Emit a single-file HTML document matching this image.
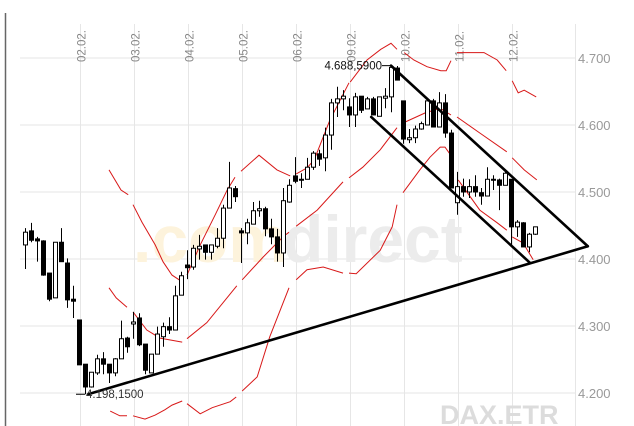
<!DOCTYPE html>
<html><head><meta charset="utf-8"><style>
html,body{margin:0;padding:0;background:#fff;}
svg{display:block;font-family:"Liberation Sans",sans-serif;}
</style></head><body>
<svg id="chart" width="634" height="426" viewBox="0 0 634 426" xmlns="http://www.w3.org/2000/svg">
<line x1="5.5" y1="13" x2="5.5" y2="426" stroke="#666" stroke-width="1.5"/>
<g id="grid"></g>
<g font-weight="bold" font-size="66">
<text x="133" y="262" fill="#fdf3dc">.com</text>
<text x="283" y="262" fill="#ececec">direct</text>
</g>
<text x="440" y="424" font-size="27" font-weight="bold" fill="#dcdcdc">DAX.ETR</text>
<g id="xlabels"></g>
<g id="ylabels"></g>
<g id="bands"></g>
<g id="candles"></g>
<g id="trend"></g>
<g id="annot"></g>
</svg>
<script>
const dayLabels=["02.02.","03.02.","04.02.","05.02.","06.02.","09.02.","10.02.","11.02.","12.02."];
const dayStartIdx=[9.17,18.17,27.17,36.17,45.17,54.17,63.17,72.17,81.17];
const yTicks=[4700,4600,4500,4400,4300,4200];
const yTickLabels=["4.700","4.600","4.500","4.400","4.300","4.200"];
const opens=[4421,4442,4430,4427,4379,4342,4425,4394,4340,4309,4243,4209,4230,4251,4243,4230,4251,4282,4303,4312,4273,4230,4258,4284,4299,4294,4346,4391,4388,4415,4421,4410,4419,4431,4476,4505,4442,4439,4452,4472,4475,4445,4433,4409,4485,4524,4519,4519,4537,4557,4551,4585,4633,4639,4627,4615,4643,4624,4639,4613,4640,4642,4685,4636,4578,4581,4594,4600,4636,4597,4633,4588,4484,4508,4500,4508,4499,4494,4519,4518,4510,4519,4448,4454,4418,4437];
const highs=[4446,4454,4433,4428,4379,4425,4446,4401,4360,4309,4243,4231,4257,4261,4243,4252,4308,4284,4321,4319,4273,4258,4299,4305,4313,4360,4381,4413,4421,4436,4421,4421,4446,4481,4545,4509,4446,4460,4485,4487,4478,4460,4445,4506,4519,4552,4528,4551,4561,4563,4596,4639,4657,4652,4640,4648,4643,4642,4642,4642,4655,4688.59,4688,4636,4594,4599,4605,4639,4639,4649,4646,4593,4530,4520,4519,4525,4506,4537,4525,4520,4533,4519,4458,4455,4439,4448];
const lows=[4385,4425,4396,4375,4337,4342,4396,4327,4312,4242,4198.15,4208,4227,4228,4215,4225,4251,4260,4281,4270,4228,4230,4258,4269,4288,4294,4346,4370,4384,4399,4399,4399,4416,4416,4476,4485,4394,4422,4452,4463,4434,4422,4396,4388,4484,4513,4506,4519,4533,4539,4531,4563,4612,4622,4597,4597,4618,4624,4615,4613,4625,4619,4667,4572,4573,4573,4593,4600,4597,4597,4581,4506,4466,4493,4491,4493,4481,4494,4503,4473,4510,4418,4433,4418,4410,4436];
const closes=[4440,4428,4427,4376,4340,4425,4396,4339,4337,4242,4209,4231,4251,4243,4230,4251,4281,4269,4306,4272,4234,4258,4288,4299,4294,4345,4375,4387,4416,4419,4410,4421,4431,4476,4506,4493,4439,4454,4472,4475,4445,4433,4409,4487,4510,4516,4518,4537,4558,4549,4585,4633,4639,4643,4615,4642,4622,4639,4615,4642,4643,4686,4667,4579,4581,4594,4602,4636,4597,4633,4588,4506,4508,4500,4508,4500,4494,4519,4518,4510,4528,4448,4455,4418,4437,4448];
const upperX=[14,16,17.2,null,18,19.5,21.7,23,24.5,26.2,null,27,29.2,31.7,33.7,35,null,36,39,42,44.2,null,45.2,47,48.2,50.8,54,null,54.2,57,59.3,61,62,null,63.2,64.8,67,69.3,70.2,71,null,72,74.3,76.5,78.7,80.2,null,81.2,82.2,83.2,85.2];
const upperP=[4533,4503,4496,null,4481,4455,4421,4396,4376,4366,null,4376,4421,4466,4503,4522,null,4531,4555,4533,4524,null,4527,4536,4548,4607,4663,null,4664,4697,4713,4722,4713,null,4708,4697,4687,4681,4681,4696,null,4708,4708,4708,4697,4681,null,4666,4648,4652,4642];
const midX=[14,15.2,17,null,18,20.3,22.5,26.2,null,27,30.3,35.3,null,36.2,39.7,43,44,null,45.2,48.7,53,null,54,56.3,59.2,62,null,63,66.7,69.2,71,null,72,75.8,80.3,null,81.2,83.2,85.3];
const midP=[4357,4342,4328,null,4321,4294,4282,4276,null,4281,4305,4360,null,4369,4403,4433,4440,null,4449,4473,4515,null,4521,4537,4563,4596,null,4603,4618,4625,4615,null,4612,4588,4560,null,4551,4533,4518];
const lowerX=[14.2,15.8,17,null,18,20,21.7,23.3,24.5,26.2,null,27,29.2,31.2,34.2,35.2,null,36.2,38.7,40.8,44,null,45.2,47,49.7,53,null,54,55.2,59.2,61.2,62,null,63,65.8,67.5,69.2,70,71.2,null,72.2,75.8,78.7,80.3,null,81.2,83,84.7];
const lowerP=[4173,4166,4166,null,4166,4161,4167,4175,4182,4188,null,4184,4169,4178,4187,4194,null,4203,4224,4284,4357,null,4369,4384,4388,4379,null,4379,4378,4413,4448,4481,null,4499,4533,4552,4567,4567,4552,null,4518,4473,4454,4443,null,4433,4424,4399];
const trendStartX=[10.5,61,57.7];
const trendStartP=[4198.15,4688.59,4612];
const trendEndX=[93.8,93.8,84.2];
const trendEndP=[4419,4419,4394];
const annotIdx=[61,10];
const annotP=[4688.59,4198.15];
const annotText=["4.688,5900","4.198,1500"];

const NS="http://www.w3.org/2000/svg";
function xs(i){return 25+6*i;}
function ys(p){return 58+(4700-p)*0.67;}
function mk(tag,attrs,parent){const e=document.createElementNS(NS,tag);for(const k in attrs)e.setAttribute(k,attrs[k]);parent.appendChild(e);return e;}
const grid=document.getElementById('grid');
yTicks.forEach((t,k)=>{
  const l=mk('line',{x1:20,x2:575,y1:ys(t),y2:ys(t),stroke:'#e6e6e6','stroke-width':1},grid);
  
  
  const tx=mk('text',{x:578,y:ys(t)+5,'font-size':13,fill:'#999'},document.getElementById('ylabels'));
  tx.textContent=yTickLabels[k];
  
  
});
dayStartIdx.forEach((d,k)=>{
  const x=Math.round(xs(d))+0.5;
  const l=mk('line',{x1:x,x2:x,y1:24,y2:426,stroke:'#e6e6e6','stroke-width':1},grid);
  
  
  const tx=mk('text',{x:0,y:0,'font-size':11.5,fill:'#888',transform:`translate(${x+5},62) rotate(-90)`},document.getElementById('xlabels'));
  tx.textContent=dayLabels[k];
  
  
});
const vl=mk('line',{x1:575.5,x2:575.5,y1:24,y2:426,stroke:'#e6e6e6','stroke-width':1},grid);



function band(X,P,name){
  let d='',start=true;
  for(let i=0;i<X.length;i++){
    if(X[i]===null){start=true;continue;}
    d+=(start?'M':'L')+xs(X[i]).toFixed(1)+','+ys(P[i]).toFixed(1);start=false;
  }
  const p=mk('path',{d:d,fill:'none',stroke:'#d81818','stroke-width':1},document.getElementById('bands'));
  
  
}
band(upperX,upperP,'upper-band');
band(midX,midP,'middle-band');
band(lowerX,lowerP,'lower-band');

const cg=document.getElementById('candles');
for(let i=0;i<opens.length;i++){
  const x=Math.round(xs(i))+0.5;
  const w=mk('line',{x1:x,x2:x,y1:ys(highs[i]),y2:ys(lows[i]),stroke:'#000','stroke-width':1},cg);
  
  
  const up=closes[i]>=opens[i];
  const top=ys(Math.max(opens[i],closes[i])),bot=ys(Math.min(opens[i],closes[i]));
  const r=mk('rect',{x:x-2,y:top,width:4,height:Math.max(1,bot-top),fill:up?'#fff':'#000',stroke:'#000','stroke-width':1},cg);
  
  
}
const tg=document.getElementById('trend');
for(let k=0;k<trendStartX.length;k++){
  const l=mk('line',{x1:xs(trendStartX[k]),y1:ys(trendStartP[k]),x2:xs(trendEndX[k]),y2:ys(trendEndP[k]),stroke:'#000','stroke-width':2.6,'stroke-linecap':'round'},tg);
  
  
}
const ag=document.getElementById('annot');
annotIdx.forEach((ix,k)=>{
  const x=xs(ix),y=ys(annotP[k]);
  const l=mk('line',{x1:x-9,x2:x,y1:y,y2:y,stroke:'#000','stroke-width':1},ag);
  
  
  const t=mk('text',k===0?{x:x-9,y:y+4,'text-anchor':'end','font-size':11.5,fill:'#111'}:{x:x+1,y:y+4,'font-size':11.5,fill:'#333'},ag);
  t.textContent=annotText[k];
  
  
});
</script>
</body></html>
